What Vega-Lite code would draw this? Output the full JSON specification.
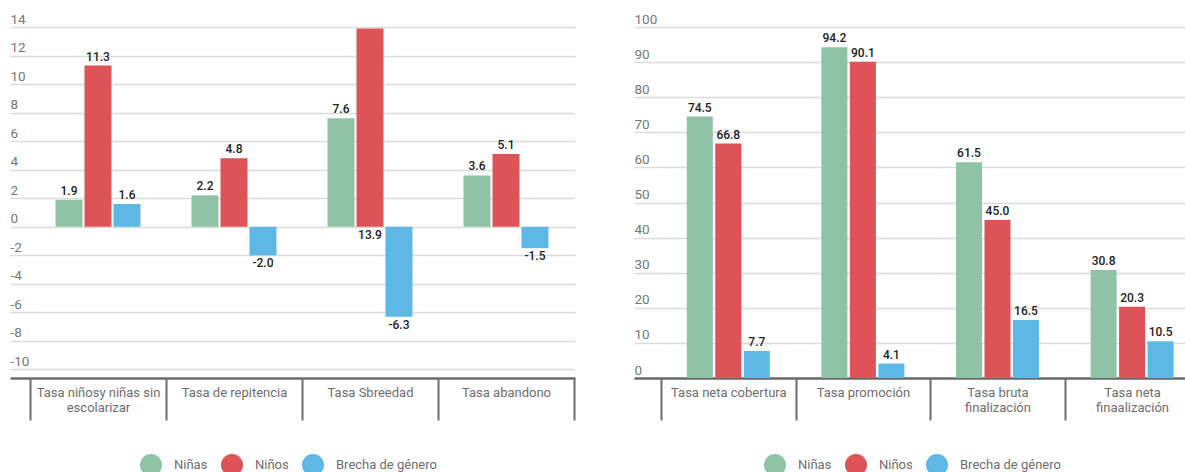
{
  "$schema": "https://vega.github.io/schema/vega-lite/v6.json",
  "background": "white",
  "padding": {"left": 10, "top": 12, "right": 0, "bottom": 0},
  "spacing": 59,
  "config": {
    "font": "Roboto",
    "view": {"stroke": null},
    "axisX": {
      "title": null, "grid": false, "labelAngle": 0, "labelOverlap": false,
      "domainColor": "#6b6b6b", "domainWidth": 2.5,
      "ticks": true, "tickBand": "extent", "tickSize": 42, "tickColor": "#6b6b6b", "tickWidth": 2,
      "labelPadding": -34, "labelFontSize": 13, "labelColor": "#6e6e6e", "labelLineHeight": 15,
      "labelBaseline": "top", "labelExpr": "isString(datum.value) ? split(datum.value, '|') : ''"
    },
    "axisY": {
      "title": null, "grid": true, "gridColor": "#dcdcdc", "gridWidth": 1.5,
      "domain": false, "ticks": false, "tickSize": 0, "labelPadding": 0, "labelOverlap": false,
      "labelAlign": "left", "labelBaseline": "bottom", "labelOffset": -1,
      "labelFontSize": 13.5, "labelColor": "#777777",
      "labelExpr": "replace(datum.label, '\u2212', '-')"
    },
    "legend": {
      "orient": "none", "legendX": 130, "legendY": 427, "direction": "horizontal",
      "title": null, "symbolType": "circle", "symbolSize": 484, "symbolStrokeWidth": 0,
      "symbolOpacity": 1, "labelFontSize": 13, "labelColor": "#6e6e6e",
      "labelOffset": 12, "columnPadding": 13
    }
  },
  "datasets": {
    "left": [
      {"cat": "Tasa niñosy niñas sin|escolarizar", "serie": "Niñas", "value": 1.9},
      {"cat": "Tasa niñosy niñas sin|escolarizar", "serie": "Niños", "value": 11.3},
      {"cat": "Tasa niñosy niñas sin|escolarizar", "serie": "Brecha de género", "value": 1.6},
      {"cat": "Tasa de repitencia", "serie": "Niñas", "value": 2.2},
      {"cat": "Tasa de repitencia", "serie": "Niños", "value": 4.8},
      {"cat": "Tasa de repitencia", "serie": "Brecha de género", "value": -2.0},
      {"cat": "Tasa Sbreedad", "serie": "Niñas", "value": 7.6},
      {"cat": "Tasa Sbreedad", "serie": "Niños", "value": 13.9},
      {"cat": "Tasa Sbreedad", "serie": "Brecha de género", "value": -6.3},
      {"cat": "Tasa abandono", "serie": "Niñas", "value": 3.6},
      {"cat": "Tasa abandono", "serie": "Niños", "value": 5.1},
      {"cat": "Tasa abandono", "serie": "Brecha de género", "value": -1.5}
    ],
    "right": [
      {"cat": "Tasa neta cobertura", "serie": "Niñas", "value": 74.5},
      {"cat": "Tasa neta cobertura", "serie": "Niños", "value": 66.8},
      {"cat": "Tasa neta cobertura", "serie": "Brecha de género", "value": 7.7},
      {"cat": "Tasa promoción", "serie": "Niñas", "value": 94.2},
      {"cat": "Tasa promoción", "serie": "Niños", "value": 90.1},
      {"cat": "Tasa promoción", "serie": "Brecha de género", "value": 4.1},
      {"cat": "Tasa bruta|finalización", "serie": "Niñas", "value": 61.5},
      {"cat": "Tasa bruta|finalización", "serie": "Niños", "value": 45.0},
      {"cat": "Tasa bruta|finalización", "serie": "Brecha de género", "value": 16.5},
      {"cat": "Tasa neta|finaalización", "serie": "Niñas", "value": 30.8},
      {"cat": "Tasa neta|finaalización", "serie": "Niños", "value": 20.3},
      {"cat": "Tasa neta|finaalización", "serie": "Brecha de género", "value": 10.5}
    ]
  },
  "resolve": {"scale": {"color": "independent", "xOffset": "independent"}, "legend": {"color": "independent"}},
  "hconcat": [
    {
      "width": 565, "height": 351,
      "data": {"name": "left"},
      "transform": [{"calculate": "replace(format(datum.value, '.1f'), '\u2212', '-')", "as": "lbl"}],
      "encoding": {
        "x": {"field": "cat", "type": "nominal", "sort": null,
              "scale": {"paddingInner": 0, "paddingOuter": 0.0772, "align": 0.952}},
        "xOffset": {"field": "serie", "type": "nominal",
                    "scale": {"domain": ["Niñas", "Niños", "Brecha de género"], "paddingInner": 0.069, "paddingOuter": 0.88}}
      },
      "layer": [
        {
          "mark": {"type": "bar"},
          "encoding": {
            "y": {"field": "value", "type": "quantitative",
                  "scale": {"domain": [-10.6, 14], "nice": false, "zero": false},
                  "axis": {"values": [-10, -8, -6, -4, -2, 0, 2, 4, 6, 8, 10, 12, 14], "labelOverlap": false}},
            "color": {"field": "serie", "type": "nominal",
                      "scale": {"domain": ["Niñas", "Niños", "Brecha de género"], "range": ["#90c2a6", "#dd5357", "#5db8e5"]}}
          }
        },
        {
          "transform": [{"filter": "datum.value >= 0 && datum.value < 13.5"}],
          "mark": {"type": "text", "baseline": "bottom", "dy": -2, "fontSize": 12, "fontWeight": 500, "color": "#222222"},
          "encoding": {
            "y": {"field": "value", "type": "quantitative", "scale": {"domain": [-10.6, 14], "nice": false, "zero": false},
                  "axis": {"values": [-10, -8, -6, -4, -2, 0, 2, 4, 6, 8, 10, 12, 14], "labelOverlap": false}},
            "text": {"field": "lbl", "type": "nominal"}
          }
        },
        {
          "transform": [{"filter": "datum.value < 0 || datum.value >= 13.5"}, {"calculate": "datum.value < 0 ? datum.value : 0", "as": "ly"}],
          "mark": {"type": "text", "baseline": "top", "dy": 3, "fontSize": 12, "fontWeight": 500, "color": "#222222"},
          "encoding": {
            "y": {"field": "ly", "type": "quantitative", "scale": {"domain": [-10.6, 14], "nice": false, "zero": false},
                  "axis": {"values": [-10, -8, -6, -4, -2, 0, 2, 4, 6, 8, 10, 12, 14], "labelOverlap": false}},
            "text": {"field": "lbl", "type": "nominal"}
          }
        }
      ]
    },
    {
      "width": 566, "height": 351,
      "data": {"name": "right"},
      "transform": [{"calculate": "format(datum.value, '.1f')", "as": "lbl"}],
      "encoding": {
        "x": {"field": "cat", "type": "nominal", "sort": null,
              "scale": {"paddingInner": 0, "paddingOuter": 0.1025, "align": 0.978}},
        "xOffset": {"field": "serie", "type": "nominal",
                    "scale": {"domain": ["Niñas", "Niños", "Brecha de género"], "paddingInner": 0.088, "paddingOuter": 0.905}}
      },
      "layer": [
        {
          "mark": {"type": "bar"},
          "encoding": {
            "y": {"field": "value", "type": "quantitative",
                  "scale": {"domain": [0, 100], "nice": false},
                  "axis": {"values": [0, 10, 20, 30, 40, 50, 60, 70, 80, 90, 100], "labelOverlap": false}},
            "color": {"field": "serie", "type": "nominal",
                      "scale": {"domain": ["Niñas", "Niños", "Brecha de género"], "range": ["#90c2a6", "#dd5357", "#5db8e5"]}}
          }
        },
        {
          "mark": {"type": "text", "baseline": "bottom", "dy": -2, "fontSize": 12, "fontWeight": 500, "color": "#222222"},
          "encoding": {
            "y": {"field": "value", "type": "quantitative", "scale": {"domain": [0, 100], "nice": false},
                  "axis": {"values": [0, 10, 20, 30, 40, 50, 60, 70, 80, 90, 100], "labelOverlap": false}},
            "text": {"field": "lbl", "type": "nominal"}
          }
        }
      ]
    }
  ]
}
